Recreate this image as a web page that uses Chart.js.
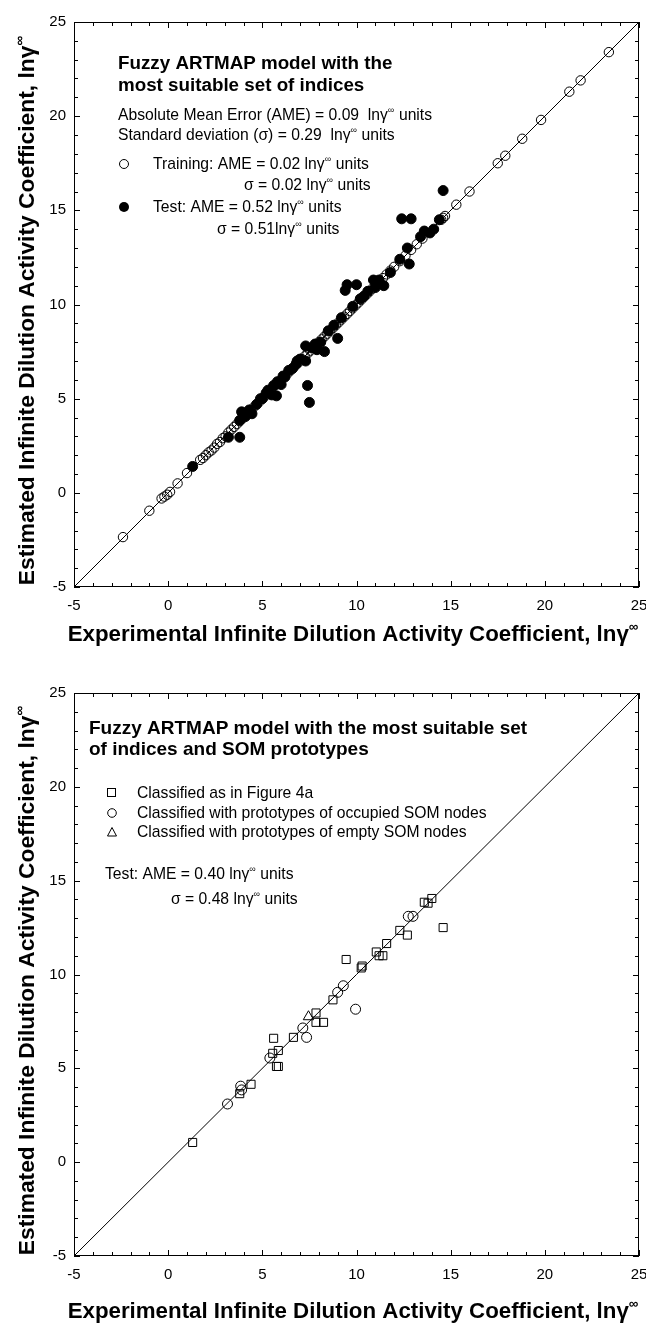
<!DOCTYPE html>
<html>
<head>
<meta charset="utf-8">
<script src="https://cdn.jsdelivr.net/npm/chart.js@4.4.1/dist/chart.umd.min.js"></script>
<style>
  html, body { margin: 0; padding: 0; background: #fff; }
  #wrap { position: relative; width: 646px; height: 1323px; }
  canvas { position: absolute; left: 0; }
</style>
</head>
<body>
<div id="wrap">
  <canvas id="chartA" width="646" height="662" style="top:0"></canvas>
  <canvas id="chartB" width="646" height="661" style="top:662px"></canvas>
</div>
<script>
// axis range shared by both panels
const axisMin = -5;
const axisMax = 25;
const diagonal = [[-5, -5], [25, 25]];

// panel (a): training set, open circles  [experimental, estimated]
const trainPoints = [
  [-2.4, -2.35], [-1.0, -0.95], [-0.35, -0.3], [-0.2, -0.2], [-0.05, -0.1], [0.1, 0.05],
  [0.5, 0.5], [1.0, 1.05], [1.7, 1.75], [1.85, 1.85], [2.0, 2.0], [2.15, 2.15],
  [2.3, 2.25], [2.45, 2.4], [2.6, 2.6], [2.75, 2.7], [2.9, 2.9], [3.05, 3.0],
  [3.2, 3.2], [3.35, 3.35], [3.5, 3.5], [3.65, 3.65], [3.8, 3.8], [3.95, 3.95],
  [4.1, 4.1], [4.25, 4.25], [4.4, 4.4], [4.55, 4.55], [4.7, 4.7], [4.85, 4.85],
  [5.0, 5.0], [5.15, 5.15], [5.3, 5.3], [5.45, 5.45], [5.6, 5.65], [5.75, 5.75],
  [5.9, 5.9], [6.05, 6.05], [6.2, 6.2], [6.35, 6.35], [6.5, 6.5], [6.65, 6.65],
  [6.8, 6.8], [6.95, 6.95], [7.1, 7.1], [7.25, 7.25], [7.4, 7.4], [7.55, 7.55],
  [7.7, 7.7], [7.85, 7.85], [8.0, 8.0], [8.15, 8.15], [8.3, 8.3], [8.45, 8.45],
  [8.6, 8.6], [8.75, 8.75], [8.9, 8.9], [9.05, 9.05], [9.2, 9.2], [9.35, 9.35],
  [9.5, 9.5], [9.65, 9.65], [9.8, 9.8], [9.95, 9.95], [10.1, 10.1], [10.25, 10.25],
  [10.4, 10.4], [10.55, 10.55], [10.7, 10.7], [10.85, 10.85], [11.0, 11.0], [11.2, 11.2],
  [11.4, 11.4], [11.6, 11.6], [11.8, 11.8], [12.0, 12.0], [12.3, 12.3], [12.6, 12.6],
  [12.9, 12.9], [13.2, 13.2], [13.5, 13.5], [14.5, 14.5], [14.6, 14.6], [14.7, 14.7],
  [15.3, 15.3], [16.0, 16.0], [17.5, 17.5], [17.9, 17.9], [18.8, 18.8], [19.8, 19.8],
  [21.3, 21.3], [21.9, 21.9], [23.4, 23.4]
];

// panel (a): test set, filled circles
const testPoints = [
  [1.3, 1.4], [3.2, 2.95], [3.8, 2.95], [3.8, 3.85], [3.9, 4.3], [4.1, 4.05],
  [4.3, 4.4], [4.45, 4.2], [4.7, 4.7], [4.9, 5.0], [5.0, 5.0], [5.2, 5.3],
  [5.3, 5.45], [5.5, 5.2], [5.6, 5.7], [5.75, 5.15], [5.8, 5.9], [6.0, 5.75],
  [6.1, 6.2], [6.2, 6.15], [6.4, 6.5], [6.6, 6.6], [6.8, 6.85], [6.85, 7.0],
  [7.0, 7.1], [7.3, 7.0], [7.3, 7.8], [7.4, 5.7], [7.5, 4.8], [7.6, 7.7],
  [7.8, 7.9], [7.9, 7.6], [8.1, 8.0], [8.3, 7.5], [8.5, 8.6], [8.8, 8.9],
  [9.0, 8.2], [9.2, 9.3], [9.4, 10.75], [9.5, 11.05], [9.8, 9.9], [10.0, 11.05],
  [10.2, 10.3], [10.4, 10.45], [10.6, 10.7], [10.9, 11.3], [11.0, 10.9], [11.2, 11.3],
  [11.45, 11.0], [11.8, 11.7], [12.3, 12.4], [12.4, 14.55], [12.7, 13.0], [12.8, 12.15],
  [12.9, 14.55], [13.4, 13.6], [13.6, 13.9], [13.9, 13.8], [14.1, 14.0], [14.4, 14.5],
  [14.6, 16.05]
];

// panel (b): test set split by how it was classified
const squarePoints = [
  [1.3, 1.05], [3.8, 3.65], [4.4, 4.15], [5.55, 5.8], [5.6, 6.6], [5.75, 5.1],
  [5.85, 5.1], [5.85, 5.95], [6.65, 6.65], [7.85, 7.95], [7.85, 7.45], [8.25, 7.45],
  [8.75, 8.65], [9.45, 10.8], [10.25, 10.35], [10.3, 10.45], [11.05, 11.2], [11.2, 11.0],
  [11.4, 11.0], [11.6, 11.65], [12.3, 12.35], [12.7, 12.1], [13.6, 13.85], [13.8, 13.8],
  [14.0, 14.05], [14.6, 12.5]
];
const circlePoints = [
  [3.15, 3.1], [3.85, 4.05], [3.9, 3.85], [5.4, 5.55], [7.15, 7.15], [7.35, 6.65],
  [9.0, 9.05], [9.3, 9.4], [9.95, 8.15], [12.75, 13.1], [13.0, 13.1]
];
const trianglePoints = [[7.45, 7.75]];

const FONT = '"Liberation Sans", Arial, Helvetica, sans-serif';
const xTitle = 'Experimental Infinite Dilution Activity Coefficient, ln\u03b3^\u221e';
const yTitle = 'Estimated Infinite Dilution Activity Coefficient, ln\u03b3^\u221e';
const HEAD = 18.8;   // bold note heading
const NOTE = 15.7;   // note text

const toXY = arr => arr.map(([x, y]) => ({ x, y }));

// split "ln\u03b3^\u221e" style strings into normal / superscript runs
function runs(str) {
  const out = [];
  for (let i = 0; i < str.length; i++) {
    if (str[i] === '^') { out.push([str[i + 1], true]); i++; }
    else if (out.length && !out[out.length - 1][1]) out[out.length - 1][0] += str[i];
    else out.push([str[i], false]);
  }
  return out;
}

function drawText(ctx, str, x, y, size, bold, align) {
  const parts = runs(str);
  const font = s => (bold ? 'bold ' : '') + s + 'px ' + FONT;
  let w = 0;
  parts.forEach(([t, sup]) => { ctx.font = font(sup ? size * 0.6 : size); w += ctx.measureText(t).width; });
  let cx = align === 'center' ? x - w / 2 : x;
  ctx.textAlign = 'left';
  ctx.textBaseline = 'alphabetic';
  parts.forEach(([t, sup]) => {
    ctx.font = font(sup ? size * 0.6 : size);
    ctx.fillText(t, cx, sup ? y - size * 0.45 : y);
    cx += ctx.measureText(t).width;
  });
}

// box round the plot with inward ticks on all four sides
const frame = {
  id: 'frame',
  afterDatasetsDraw(chart) {
    const { ctx, chartArea: a, scales: { x, y } } = chart;
    ctx.save();
    ctx.strokeStyle = '#000';
    ctx.lineWidth = 1;
    ctx.strokeRect(a.left + 0.5, a.top + 0.5, a.right - a.left - 1, a.bottom - a.top - 1);
    ctx.beginPath();
    for (let v = x.min; v <= x.max; v++) {
      const len = v % 5 === 0 ? 6 : 4;
      const px = Math.round(x.getPixelForValue(v)) + 0.5;
      const py = Math.round(y.getPixelForValue(v)) + 0.5;
      ctx.moveTo(px, a.bottom); ctx.lineTo(px, a.bottom - len);
      ctx.moveTo(px, a.top); ctx.lineTo(px, a.top + len);
      ctx.moveTo(a.left, py); ctx.lineTo(a.left + len, py);
      ctx.moveTo(a.right, py); ctx.lineTo(a.right - len, py);
    }
    ctx.stroke();
    ctx.restore();
  }
};

// axis titles and the in-plot notes, drawn by hand so the superscript infinity fits
function decorations(xBase, notes) {
  return {
    id: 'decorations',
    afterDraw(chart) {
      const { ctx, chartArea: a } = chart;
      ctx.save();
      ctx.fillStyle = '#000';
      ctx.strokeStyle = '#000';
      ctx.lineWidth = 1;
      drawText(ctx, xTitle, 353, xBase, 22.3, true, 'center');
      notes(ctx);
      ctx.translate(34, (a.top + a.bottom) / 2 + 6);
      ctx.rotate(-Math.PI / 2);
      drawText(ctx, yTitle, 0, 0, 22.8, true, 'center');
      ctx.restore();
    }
  };
}

function makeOptions(topPad, xHeight) {
  return {
    responsive: false,
    animation: false,
    layout: { padding: { top: topPad, right: 7, bottom: 0, left: 0 } },
    plugins: {
      legend: { display: false },
      tooltip: { enabled: false }
    },
    scales: {
      x: {
        type: 'linear', min: axisMin, max: axisMax,
        grid: { display: false, drawTicks: false },
        border: { display: false },
        ticks: { stepSize: 5, padding: 10, color: '#000', font: { family: FONT, size: 15 } },
        afterFit: s => { s.height = xHeight; s.paddingLeft = 0; s.paddingRight = 0; }
      },
      y: {
        type: 'linear', min: axisMin, max: axisMax,
        grid: { display: false, drawTicks: false },
        border: { display: false },
        ticks: { stepSize: 5, padding: 8, color: '#000', font: { family: FONT, size: 15 } },
        afterFit: s => { s.width = 74; }
      }
    }
  };
}

const lineSet = {
  data: toXY(diagonal), showLine: true, pointRadius: 0,
  borderColor: '#000', borderWidth: 1, fill: false
};

new Chart(document.getElementById('chartA'), {
  type: 'scatter',
  data: {
    datasets: [
      { label: 'Test', data: toXY(testPoints), pointRadius: 5, backgroundColor: '#000', borderColor: '#000', borderWidth: 1 },
      { label: 'Training', data: toXY(trainPoints), pointRadius: 4.7, backgroundColor: 'rgba(0,0,0,0)', borderColor: '#000', borderWidth: 1 },
      lineSet
    ]
  },
  options: makeOptions(22, 75),
  plugins: [frame, decorations(641, ctx => {
    drawText(ctx, 'Fuzzy ARTMAP model with the', 118, 69, HEAD, true);
    drawText(ctx, 'most suitable set of indices', 118, 91, HEAD, true);
    drawText(ctx, 'Absolute Mean Error (AME) = 0.09  ln\u03b3^\u221e units', 118, 120, NOTE);
    drawText(ctx, 'Standard deviation (\u03c3) = 0.29  ln\u03b3^\u221e units', 118, 140, NOTE);
    ctx.beginPath(); ctx.arc(124, 164, 4.5, 0, Math.PI * 2); ctx.stroke();
    drawText(ctx, 'Training: AME = 0.02 ln\u03b3^\u221e units', 153, 169, NOTE);
    drawText(ctx, '\u03c3 = 0.02 ln\u03b3^\u221e units', 244, 190, NOTE);
    ctx.beginPath(); ctx.arc(124, 207, 5, 0, Math.PI * 2); ctx.fill();
    drawText(ctx, 'Test: AME = 0.52 ln\u03b3^\u221e units', 153, 212, NOTE);
    drawText(ctx, '\u03c3 = 0.51ln\u03b3^\u221e units', 217, 234, NOTE);
  })]
});

new Chart(document.getElementById('chartB'), {
  type: 'scatter',
  data: {
    datasets: [
      { label: 'Classified as in Figure 4a', data: toXY(squarePoints), pointStyle: 'rect', pointRadius: 5.7, backgroundColor: 'rgba(0,0,0,0)', borderColor: '#000', borderWidth: 1 },
      { label: 'Occupied SOM nodes', data: toXY(circlePoints), pointStyle: 'circle', pointRadius: 5, backgroundColor: 'rgba(0,0,0,0)', borderColor: '#000', borderWidth: 1 },
      { label: 'Empty SOM nodes', data: toXY(trianglePoints), pointStyle: 'triangle', pointRadius: 6, backgroundColor: 'rgba(0,0,0,0)', borderColor: '#000', borderWidth: 1 },
      lineSet
    ]
  },
  options: makeOptions(31, 67),
  plugins: [frame, decorations(656, ctx => {
    drawText(ctx, 'Fuzzy ARTMAP model with the most suitable set', 89, 72, 19, true);
    drawText(ctx, 'of indices and SOM prototypes', 89, 93, 19, true);
    ctx.strokeRect(107.5, 126.5, 8, 8);
    drawText(ctx, 'Classified as in Figure 4a', 137, 136, NOTE);
    ctx.beginPath(); ctx.arc(112, 151, 4.3, 0, Math.PI * 2); ctx.stroke();
    drawText(ctx, 'Classified with prototypes of occupied SOM nodes', 137, 156, NOTE);
    ctx.beginPath(); ctx.moveTo(112, 165.5); ctx.lineTo(116.5, 174); ctx.lineTo(107.5, 174); ctx.closePath(); ctx.stroke();
    drawText(ctx, 'Classified with prototypes of empty SOM nodes', 137, 175, NOTE);
    drawText(ctx, 'Test: AME = 0.40 ln\u03b3^\u221e units', 105, 217, NOTE);
    drawText(ctx, '\u03c3 = 0.48 ln\u03b3^\u221e units', 171, 242, NOTE);
  })]
});
</script>
</body>
</html>
